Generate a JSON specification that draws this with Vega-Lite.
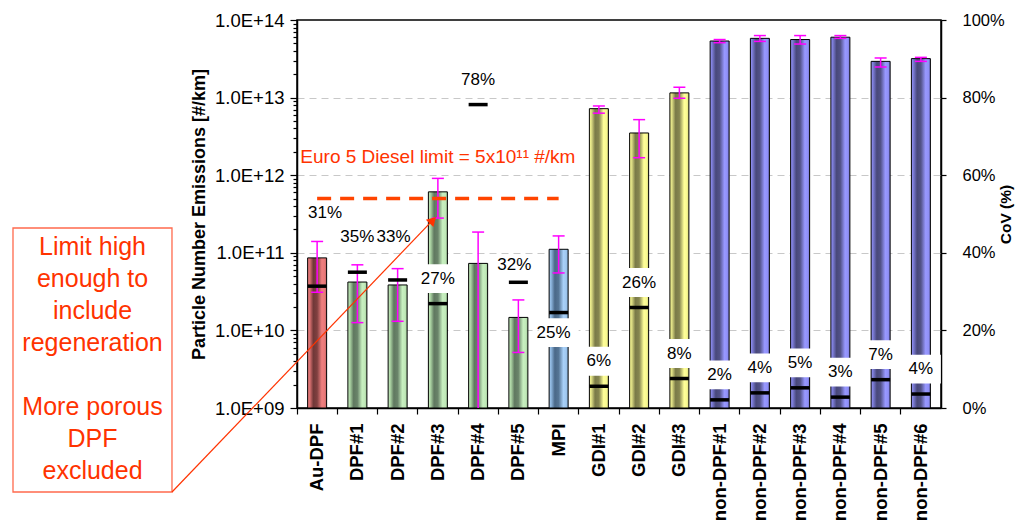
{
  "$schema": "https://vega.github.io/schema/vega-lite/v6.json",
  "width": 644,
  "height": 388,
  "autosize": {"type": "none"},
  "padding": {"left": 297, "top": 20, "right": 83, "bottom": 122},
  "background": "white",
  "config": {
    "font": "Liberation Sans",
    "view": {"stroke": "black", "strokeWidth": 1.5},
    "axis": {"labelColor": "black", "titleColor": "black", "tickColor": "black", "domainColor": "black", "domainWidth": 1.5, "tickWidth": 1.2}
  },
  "data": {
    "values": [
      {"cat": "Au-DPF", "group": "au", "pn": 8.6e10, "lo": 3.1e10, "hi": 1.4e11, "cov": 0.314},
      {"cat": "DPF#1", "group": "dpf", "pn": 4.2e10, "lo": 1.26e10, "hi": 7.0e10, "cov": 0.35},
      {"cat": "DPF#2", "group": "dpf", "pn": 3.85e10, "lo": 1.31e10, "hi": 6.25e10, "cov": 0.33},
      {"cat": "DPF#3", "group": "dpf", "pn": 6.1e11, "lo": 2.8e11, "hi": 9.1e11, "cov": 0.269},
      {"cat": "DPF#4", "group": "dpf", "pn": 7.3e10, "lo": 1e9, "hi": 1.85e11, "cov": 0.782},
      {"cat": "DPF#5", "group": "dpf", "pn": 1.47e10, "lo": 5.2e9, "hi": 2.47e10, "cov": 0.324},
      {"cat": "MPI", "group": "mpi", "pn": 1.11e11, "lo": 5.5e10, "hi": 1.65e11, "cov": 0.246},
      {"cat": "GDI#1", "group": "gdi", "pn": 7.2e12, "lo": 6.3e12, "hi": 7.8e12, "cov": 0.056},
      {"cat": "GDI#2", "group": "gdi", "pn": 3.5e12, "lo": 1.68e12, "hi": 5.2e12, "cov": 0.259},
      {"cat": "GDI#3", "group": "gdi", "pn": 1.15e13, "lo": 9.8e12, "hi": 1.36e13, "cov": 0.076},
      {"cat": "non-DPF#1", "group": "non", "pn": 5.36e13, "lo": 5.1e13, "hi": 5.6e13, "cov": 0.021},
      {"cat": "non-DPF#2", "group": "non", "pn": 5.8e13, "lo": 5.3e13, "hi": 6.3e13, "cov": 0.039},
      {"cat": "non-DPF#3", "group": "non", "pn": 5.6e13, "lo": 4.9e13, "hi": 6.3e13, "cov": 0.052},
      {"cat": "non-DPF#4", "group": "non", "pn": 6.0e13, "lo": 5.8e13, "hi": 6.3e13, "cov": 0.028},
      {"cat": "non-DPF#5", "group": "non", "pn": 2.93e13, "lo": 2.48e13, "hi": 3.24e13, "cov": 0.073},
      {"cat": "non-DPF#6", "group": "non", "pn": 3.18e13, "lo": 2.93e13, "hi": 3.3e13, "cov": 0.036}
    ]
  },
  "layer": [
    {
      "encoding": {
        "x": {
          "field": "cat", "type": "nominal", "sort": null,
          "scale": {"paddingInner": 0, "paddingOuter": 0},
          "axis": {"title": null, "labelAngle": 270, "labelFontSize": 18.5, "labelFontWeight": "bold", "labelPadding": 9, "tickSize": 6, "bandPosition": 0, "grid": false}
        }
      },
      "layer": [
        {
          "layer": [
            {
              "transform": [{"filter": "datum.group == 'au'"}],
              "mark": {"type": "bar", "width": 19, "stroke": "black", "strokeWidth": 1, "color": {"gradient": "linear", "x1": 0, "x2": 1, "y1": 0, "y2": 0, "stops": [{"offset": 0, "color": "#f08080"}, {"offset": 0.12, "color": "#d87070"}, {"offset": 0.3, "color": "#703838"}, {"offset": 0.5, "color": "#804040"}, {"offset": 0.75, "color": "#f08080"}, {"offset": 0.9, "color": "#e87878"}, {"offset": 1, "color": "#c06060"}]}},
              "encoding": {
                "y": {"field": "pn", "type": "quantitative", "scale": {"type": "log", "domain": [1e9, 1e14], "nice": false},
                  "axis": {"orient": "left", "title": "Particle Number Emissions [#/km]", "titleFontSize": 18, "titleFontWeight": "bold", "titlePadding": 6,
                    "values": [1e9,2e9,3e9,4e9,5e9,6e9,7e9,8e9,9e9,1e10,2e10,3e10,4e10,5e10,6e10,7e10,8e10,9e10,1e11,2e11,3e11,4e11,5e11,6e11,7e11,8e11,9e11,1e12,2e12,3e12,4e12,5e12,6e12,7e12,8e12,9e12,1e13,2e13,3e13,4e13,5e13,6e13,7e13,8e13,9e13,1e14],
                    "labelExpr": "indexof([1e9,1e10,1e11,1e12,1e13,1e14], datum.value) >= 0 ? '1.0E+' + format(round(log(datum.value)/LN10), '02d') : ''",
                    "labelFontSize": 18.5, "labelPadding": 6, "labelOverlap": false, "labelBound": false, "labelFlush": false,
                    "tickSize": {"condition": {"test": "indexof([1e9,1e10,1e11,1e12,1e13,1e14], datum.value) >= 0", "value": 7}, "value": 4},
                    "grid": true, "gridColor": "#c8c8c8", "gridDash": [7, 5], "gridWidth": 1,
                    "gridOpacity": {"condition": {"test": "indexof([1e10,1e11,1e12,1e13], datum.value) >= 0", "value": 1}, "value": 0}
                  }
                },
                "y2": {"datum": 1e9}
              }
            },
            {
              "transform": [{"filter": "datum.group == 'dpf'"}],
              "mark": {"type": "bar", "width": 19, "stroke": "black", "strokeWidth": 1, "color": {"gradient": "linear", "x1": 0, "x2": 1, "y1": 0, "y2": 0, "stops": [{"offset": 0, "color": "#c8f0c0"}, {"offset": 0.12, "color": "#a8d0a0"}, {"offset": 0.3, "color": "#607860"}, {"offset": 0.5, "color": "#6a846a"}, {"offset": 0.75, "color": "#c8f0c0"}, {"offset": 0.9, "color": "#c0e8b8"}, {"offset": 1, "color": "#98c090"}]}},
              "encoding": {"y": {"field": "pn", "type": "quantitative"}, "y2": {"datum": 1e9}}
            },
            {
              "transform": [{"filter": "datum.group == 'mpi'"}],
              "mark": {"type": "bar", "width": 19, "stroke": "black", "strokeWidth": 1, "color": {"gradient": "linear", "x1": 0, "x2": 1, "y1": 0, "y2": 0, "stops": [{"offset": 0, "color": "#a8d0f8"}, {"offset": 0.12, "color": "#88b0d8"}, {"offset": 0.3, "color": "#4a6888"}, {"offset": 0.5, "color": "#557595"}, {"offset": 0.75, "color": "#a8d0f8"}, {"offset": 0.9, "color": "#a0c8f0"}, {"offset": 1, "color": "#80a8d0"}]}},
              "encoding": {"y": {"field": "pn", "type": "quantitative"}, "y2": {"datum": 1e9}}
            },
            {
              "transform": [{"filter": "datum.group == 'gdi'"}],
              "mark": {"type": "bar", "width": 19, "stroke": "black", "strokeWidth": 1, "color": {"gradient": "linear", "x1": 0, "x2": 1, "y1": 0, "y2": 0, "stops": [{"offset": 0, "color": "#ffff99"}, {"offset": 0.12, "color": "#d8d880"}, {"offset": 0.3, "color": "#7a7a48"}, {"offset": 0.5, "color": "#868650"}, {"offset": 0.75, "color": "#ffff99"}, {"offset": 0.9, "color": "#f8f890"}, {"offset": 1, "color": "#d0d078"}]}},
              "encoding": {"y": {"field": "pn", "type": "quantitative"}, "y2": {"datum": 1e9}}
            },
            {
              "transform": [{"filter": "datum.group == 'non'"}],
              "mark": {"type": "bar", "width": 19, "stroke": "black", "strokeWidth": 1, "color": {"gradient": "linear", "x1": 0, "x2": 1, "y1": 0, "y2": 0, "stops": [{"offset": 0, "color": "#9898ff"}, {"offset": 0.12, "color": "#7878d0"}, {"offset": 0.3, "color": "#48487a"}, {"offset": 0.5, "color": "#525288"}, {"offset": 0.75, "color": "#9898ff"}, {"offset": 0.9, "color": "#9090f8"}, {"offset": 1, "color": "#7070c8"}]}},
              "encoding": {"y": {"field": "pn", "type": "quantitative"}, "y2": {"datum": 1e9}}
            },
            {
              "mark": {"type": "rule", "color": "#ff00ff", "strokeWidth": 1.5},
              "encoding": {"y": {"field": "lo", "type": "quantitative"}, "y2": {"field": "hi"}}
            },
            {
              "mark": {"type": "tick", "color": "#ff00ff", "size": 12, "thickness": 1.5, "opacity": 1},
              "encoding": {"y": {"field": "hi", "type": "quantitative"}}
            },
            {
              "transform": [{"filter": "datum.lo > 1e9"}],
              "mark": {"type": "tick", "color": "#ff00ff", "size": 12, "thickness": 1.5, "opacity": 1},
              "encoding": {"y": {"field": "lo", "type": "quantitative"}}
            },
            {
              "data": {"values": [{"limit": 5e11, "from": "Au-DPF", "to": "MPI"}]},
              "mark": {"type": "rule", "color": "#ff4400", "strokeWidth": 3.5, "strokeDash": [14, 9]},
              "encoding": {"x": {"field": "from", "type": "nominal"}, "x2": {"field": "to"}, "y": {"field": "limit", "type": "quantitative"}}
            },
            {
              "data": {"values": [{"label": "Euro 5 Diesel limit = 5x10¹¹ #/km", "at": "DPF#3", "pos": 1.7e12}]},
              "mark": {"type": "text", "color": "#ff3300", "fontSize": 19, "align": "center", "baseline": "middle"},
              "encoding": {"x": {"field": "at", "type": "nominal"}, "y": {"field": "pos", "type": "quantitative"}, "text": {"field": "label"}}
            }
          ]
        },
        {
          "layer": [
            {
              "transform": [{"filter": "datum.cov < 0.3 && datum.cat != 'MPI'"}],
              "mark": {"type": "point", "shape": "M-1,-0.72L1,-0.72L1,0.72L-1,0.72Z", "size": 1600, "filled": true, "color": "white", "opacity": 1, "yOffset": -25},
              "encoding": {"y": {"field": "cov", "type": "quantitative"}}
            },
            {
              "transform": [{"filter": "datum.cat == 'MPI'"}],
              "mark": {"type": "point", "shape": "M-1,-0.72L1,-0.72L1,0.72L-1,0.72Z", "size": 1600, "filled": true, "color": "white", "opacity": 1, "yOffset": 20},
              "encoding": {"y": {"field": "cov", "type": "quantitative"}}
            },
            {
              "transform": [{"filter": "indexof(['Au-DPF','DPF#1','DPF#2','DPF#5','MPI'], datum.cat) < 0"}],
              "mark": {"type": "text", "fontSize": 17, "color": "black", "baseline": "middle", "yOffset": -25},
              "encoding": {"y": {"field": "cov", "type": "quantitative"}, "text": {"field": "cov", "type": "quantitative", "format": ".0%"}}
            },
            {
              "transform": [{"filter": "datum.cat == 'Au-DPF'"}],
              "mark": {"type": "text", "fontSize": 17, "color": "black", "baseline": "middle", "yOffset": -73, "xOffset": 8},
              "encoding": {"y": {"field": "cov", "type": "quantitative"}, "text": {"field": "cov", "type": "quantitative", "format": ".0%"}}
            },
            {
              "transform": [{"filter": "datum.cat == 'DPF#1'"}],
              "mark": {"type": "text", "fontSize": 17, "color": "black", "baseline": "middle", "yOffset": -35},
              "encoding": {"y": {"field": "cov", "type": "quantitative"}, "text": {"field": "cov", "type": "quantitative", "format": ".0%"}}
            },
            {
              "transform": [{"filter": "datum.cat == 'DPF#2'"}],
              "mark": {"type": "text", "fontSize": 17, "color": "black", "baseline": "middle", "yOffset": -43, "xOffset": -4},
              "encoding": {"y": {"field": "cov", "type": "quantitative"}, "text": {"field": "cov", "type": "quantitative", "format": ".0%"}}
            },
            {
              "transform": [{"filter": "datum.cat == 'DPF#5'"}],
              "mark": {"type": "text", "fontSize": 17, "color": "black", "baseline": "middle", "yOffset": -17, "xOffset": -4},
              "encoding": {"y": {"field": "cov", "type": "quantitative"}, "text": {"field": "cov", "type": "quantitative", "format": ".0%"}}
            },
            {
              "transform": [{"filter": "datum.cat == 'MPI'"}],
              "mark": {"type": "text", "fontSize": 17, "color": "black", "baseline": "middle", "yOffset": 20, "xOffset": -5},
              "encoding": {"y": {"field": "cov", "type": "quantitative"}, "text": {"field": "cov", "type": "quantitative", "format": ".0%"}}
            },
            {
              "mark": {"type": "tick", "color": "black", "size": 19, "thickness": 3.5, "opacity": 1},
              "encoding": {
                "y": {"field": "cov", "type": "quantitative", "scale": {"domain": [0, 1], "nice": false},
                  "axis": {"orient": "right", "title": "CoV (%)", "titleFontSize": 15.5, "titleFontWeight": "bold", "titleAngle": 270, "titlePadding": 9,
                    "values": [0, 0.2, 0.4, 0.6, 0.8, 1], "format": ".0%", "labelFontSize": 16.5, "labelPadding": 16, "tickSize": 5, "grid": false, "labelFlush": false, "labelBound": false}
                }
              }
            }
          ]
        }
      ],
      "resolve": {"scale": {"y": "independent"}}
    },
    {
      "data": {"values": [{}]},
      "layer": [
        {
          "mark": {"type": "rect", "filled": false, "stroke": "#ff6a4d", "strokeWidth": 1.3},
          "encoding": {
            "x": {"datum": -7.056, "type": "quantitative", "scale": {"domain": [0, 16], "nice": false, "zero": false}, "axis": null},
            "x2": {"datum": -3.106},
            "y": {"datum": 46.39, "type": "quantitative", "scale": {"domain": [0, 100], "nice": false, "zero": false}, "axis": null},
            "y2": {"datum": -21.65}
          }
        },
        {
          "mark": {"type": "text", "color": "#ff3300", "fontSize": 25, "lineHeight": 32, "align": "center", "baseline": "top",
            "text": ["Limit high", "enough to", "include", "regeneration"]},
          "encoding": {
            "x": {"datum": -5.08, "type": "quantitative"},
            "y": {"datum": 44.6, "type": "quantitative"}
          }
        },
        {
          "mark": {"type": "text", "color": "#ff3300", "fontSize": 25, "lineHeight": 32, "align": "center", "baseline": "top",
            "text": ["More porous", "DPF", "excluded"]},
          "encoding": {
            "x": {"datum": -5.08, "type": "quantitative"},
            "y": {"datum": 3.4, "type": "quantitative"}
          }
        },
        {
          "mark": {"type": "rule", "color": "#ff3300", "strokeWidth": 1.2},
          "encoding": {
            "x": {"datum": -3.106, "type": "quantitative"},
            "x2": {"datum": 3.374},
            "y": {"datum": -21.65, "type": "quantitative"},
            "y2": {"datum": 48.4}
          }
        },
        {
          "mark": {"type": "point", "shape": "triangle-up", "angle": 44, "size": 110, "filled": true, "color": "#ff3300", "opacity": 1},
          "encoding": {
            "x": {"datum": 3.374, "type": "quantitative"},
            "y": {"datum": 48.4, "type": "quantitative"}
          }
        }
      ]
    }
  ],
  "resolve": {"scale": {"x": "independent", "y": "independent"}}
}
